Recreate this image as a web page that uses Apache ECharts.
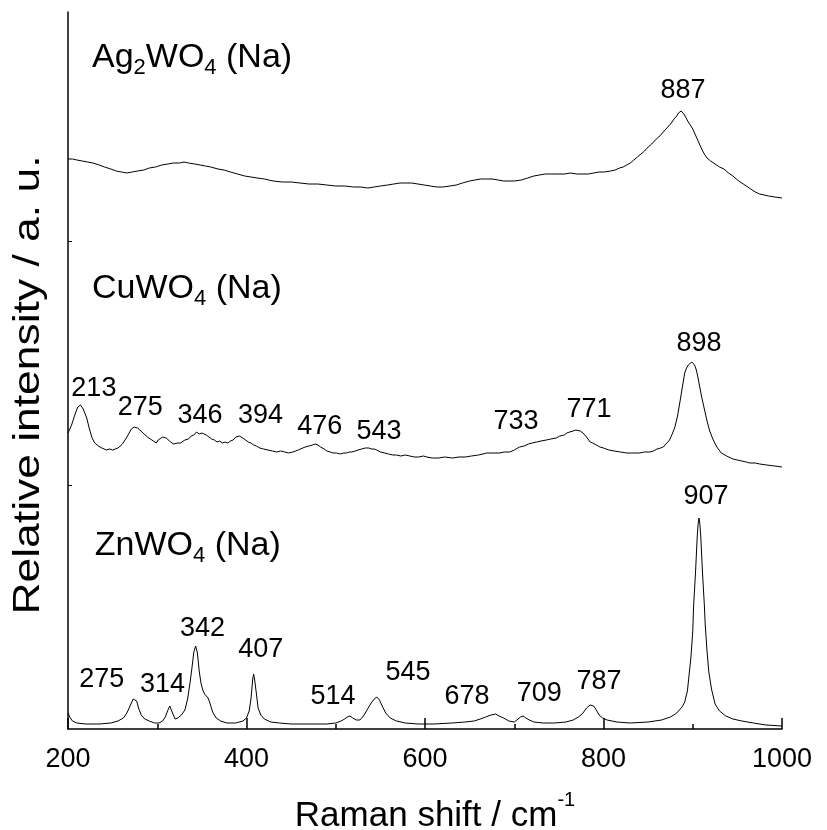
<!DOCTYPE html>
<html>
<head>
<meta charset="utf-8">
<script src="https://cdn.jsdelivr.net/npm/echarts@6/dist/echarts.min.js"></script>
<style>
  html, body { margin: 0; padding: 0; background: #fff; }
  #chart { width: 827px; height: 830px; }
</style>
</head>
<body>
<div id="chart"></div>
<script>
var FONT = 'Liberation Sans, Arial, sans-serif';

// x axis: Raman shift (cm-1); y: relative intensity, spectra stacked with offsets
var xTicks = [200, 400, 600, 800, 1000];
var yTicks = [244, 488];

var znSpectrum = [
  [200,16],[202,12],[205,8],[210,6],[220,5],[235,5],[248,6],[256,8],[262,11],[266,16],[270,24],[273,30],[275,31],
  [277,28],[279,21],[282,14],[286,10],[291,8],[297,6],[302,6],[306,8],[309,12],[312,19],[314,23],[316,21],[318,14],
  [320,10],[323,11],[327,14],[331,19],[334,30],[337,48],[339,62],[341,77],[343,83],[345,76],[347,58],[349,46],
  [351,39],[353,35],[355,33],[357,31],[359,26],[362,17],[366,11],[371,8],[378,6],[388,6],[396,8],[400,11],[403,18],
  [405,30],[407,50],[408,55],[409,50],[411,36],[413,21],[416,14],[420,10],[427,7],[437,6],[450,5],[470,5],[490,5],
  [500,6],[506,8],[510,10],[513,12],[516,13],[519,11],[523,9],[527,9],[531,13],[535,19],[539,25],[543,30],[546,32],
  [549,29],[552,23],[556,16],[561,11],[568,8],[578,6],[592,5],[610,5],[630,6],[645,7],[655,8],[662,10],[668,12],
  [674,14],[679,15],[683,13],[688,11],[694,8],[700,7],[703,9],[707,12],[710,13],[713,11],[717,9],[722,7],[732,6],
  [745,6],[758,7],[766,9],[772,12],[777,16],[781,21],[785,24],[787,25],[789,23],[792,19],[795,14],[799,11],[804,9],
  [815,7],[830,6],[850,7],[865,9],[875,12],[882,16],[888,22],[891,27],[894,38],[896,55],[898,72],[900,98],[901,124],
  [903,155],[905,192],[906,205],[907,211],[908,205],[909,192],[911,155],[913,124],[914,104],[916,78],[918,57],
  [921,40],[925,25],[930,18],[937,13],[945,10],[955,8],[968,6],[982,4],[1000,3]
];

var cuSpectrum = [
  [200,296],[204,304],[208,315],[211,322],[214,324],[217,320],[221,311],[224,300],[227,291],[230,286],[234,283],
  [238,281],[243,279],[247,280],[250,279],[256,281],[261,285],[266,292],[271,300],[274,302],[276,304],[278,301],
  [280,300],[284,296],[289,292],[294,289],[299,286],[301,289],[303,291],[306,292],[310,291],[312,289],[315,287],
  [318,285],[320,284],[323,286],[326,286],[331,289],[335,290],[338,293],[341,294],[344,297],[347,295],[350,296],
  [355,294],[358,292],[361,290],[364,289],[367,287],[370,288],[373,286],[376,287],[379,286],[382,288],[385,289],
  [388,292],[390,291],[392,293],[394,292],[396,291],[398,290],[402,287],[405,286],[408,284],[411,283],[415,281],
  [419,280],[424,279],[429,278],[434,277],[438,278],[443,277],[447,276],[452,277],[455,278],[458,279],[463,281],
  [466,282],[470,283],[474,284],[477,285],[480,284],[483,282],[487,280],[490,278],[494,277],[497,276],[501,276],
  [505,275],[509,276],[512,276],[515,277],[518,277],[522,278],[525,279],[529,280],[533,281],[537,281],[540,280],
  [543,280],[546,279],[550,277],[555,276],[559,275],[564,274],[568,274],[573,273],[578,274],[583,273],[588,272],
  [593,272],[598,273],[602,272],[608,271],[615,271],[622,272],[631,271],[638,272],[645,272],[652,273],[660,274],
  [665,275],[669,276],[676,276],[683,276],[689,277],[695,277],[700,279],[706,282],[711,283],[716,285],[720,286],
  [725,287],[730,288],[736,289],[741,290],[747,291],[751,293],[756,294],[759,296],[762,297],[766,298],[769,299],
  [771,299],[774,298],[777,296],[781,292],[785,287],[788,286],[792,284],[796,282],[800,281],[806,279],[812,278],
  [819,277],[826,276],[833,276],[840,276],[846,277],[852,277],[856,278],[860,280],[864,281],[867,282],[871,286],
  [874,289],[877,295],[880,302],[883,313],[886,329],[888,340],[891,356],[893,361],[895,364],[897,366],[899,367],
  [901,365],[902,364],[904,359],[906,351],[907,346],[910,332],[913,320],[916,308],[919,298],[923,289],[927,282],
  [932,276],[938,273],[945,270],[950,269],[955,268],[960,267],[964,266],[970,266],[975,265],[983,264],[992,263],
  [1000,262]
];

var agSpectrum = [
  [200,570],[205,570],[210,569],[216,568],[222,567],[228,566],[235,564],[241,562],[248,560],[254,558],[260,557],
  [266,556],[272,557],[278,558],[285,559],[291,561],[298,562],[305,564],[312,565],[318,566],[325,566],[330,567],
  [335,566],[342,565],[348,564],[354,563],[360,562],[368,560],[375,559],[382,557],[390,555],[398,553],[405,552],
  [412,551],[420,550],[430,548],[440,547],[450,547],[460,546],[470,545],[480,545],[490,544],[500,543],[510,543],
  [520,542],[528,542],[536,541],[543,542],[550,543],[558,544],[565,545],[572,546],[578,546],[585,546],[592,545],
  [599,544],[606,543],[613,542],[620,542],[628,543],[635,544],[642,546],[650,548],[656,549],[662,550],[668,550],
  [675,550],[682,549],[688,548],[694,548],[700,548],[708,549],[715,551],[722,553],[728,554],[735,555],[742,555],
  [749,555],[756,555],[763,556],[770,555],[777,555],[783,555],[789,556],[795,557],[801,557],[808,558],[813,559],
  [818,561],[822,562],[826,564],[830,566],[834,569],[838,572],[842,575],[846,578],[850,582],[854,585],[858,589],
  [862,592],[866,596],[870,600],[873,603],[876,606],[879,610],[882,613],[884,616],[886,617],[887,618],[888,617],
  [890,615],[892,612],[895,607],[898,603],[900,600],[903,594],[905,590],[908,584],[910,580],[913,575],[916,571],
  [920,568],[925,565],[930,562],[935,560],[940,556],[945,553],[950,549],[955,546],[960,543],[965,540],[970,537],
  [975,535],[980,534],[985,533],[992,532],[1000,531]
];

// sample names, left-anchored
var sampleNames = [
  [230, 183.5, '{n|ZnWO}{s|4}{n| (Na)}'],
  [226.9, 440.5, '{n|CuWO}{s|4}{n| (Na)}'],
  [226.9, 671.5, '{n|Ag}{s|2}{n|WO}{s|4}{n| (Na)}']
];

// peak position labels
var peakLabels = [
  [237.8, 49, '275'], [305.9, 44, '314'], [350.7, 100, '342'], [416, 79, '407'], [497, 32, '514'],
  [581, 56, '545'], [647, 32, '678'], [728, 35, '709'], [795, 47, '787'], [914.8, 232, '907'],
  [229, 340, '213'], [281, 321, '275'], [348, 313, '346'], [415.7, 313, '394'], [482, 302, '476'],
  [548.5, 297, '543'], [702, 307, '733'], [783.7, 319.5, '771'], [907, 385, '898'],
  [889, 638, '887']
];

var chart = echarts.init(document.getElementById('chart'), null, { renderer: 'canvas' });

function lineSeries(name, data) {
  return {
    name: name,
    type: 'line',
    data: data,
    symbol: 'none',
    showSymbol: false,
    silent: true,
    lineStyle: { color: '#000', width: 1 },
    z: 2
  };
}

var option = {
  animation: false,
  backgroundColor: '#fff',
  textStyle: { fontFamily: FONT, color: '#000' },
  grid: { left: 68, right: 45, top: 12, bottom: 101 },
  xAxis: [
    {
      type: 'value',
      min: 200,
      max: 1000,
      interval: 200,
      axisLine: { lineStyle: { color: '#000', width: 1.5 } },
      axisTick: { inside: true, length: 11, lineStyle: { color: '#000', width: 1.5 } },
      splitLine: { show: false },
      axisLabel: {
        fontSize: 27, color: '#000', fontFamily: FONT, margin: 17,
        formatter: function (v) { return String(v); }
      }
    },
    {
      // minor ticks every 100
      type: 'value',
      min: 200,
      max: 1000,
      interval: 100,
      position: 'bottom',
      axisLine: { show: false },
      axisTick: { inside: true, length: 5, lineStyle: { color: '#000', width: 1.5 } },
      axisLabel: { show: false },
      splitLine: { show: false }
    }
  ],
  yAxis: {
    type: 'value',
    min: 0,
    max: 717,
    axisLine: { show: true, lineStyle: { color: '#000', width: 1.5 } },
    axisTick: { show: true, inside: true, length: 4, customValues: yTicks, lineStyle: { color: '#000', width: 1 } },
    axisLabel: { show: false },
    splitLine: { show: false }
  },
  graphic: [
    {
      type: 'text',
      x: 29,
      y: 385,
      rotation: Math.PI / 2,
      scaleX: 1.2,
      style: {
        text: 'Relative intensity / a. u.',
        fontSize: 37,
        fontFamily: FONT,
        fill: '#000',
        align: 'center',
        verticalAlign: 'middle'
      }
    },
    {
      type: 'text',
      x: 435,
      y: 808,
      style: {
        text: '{n|Raman shift / cm}{p|-1}',
        align: 'center',
        verticalAlign: 'middle',
        rich: {
          n: { fontSize: 35, fontFamily: FONT, fill: '#000', lineHeight: 35, padding: [8, 0, 0, 0], verticalAlign: 'top' },
          p: { fontSize: 20, fontFamily: FONT, fill: '#000', lineHeight: 20, verticalAlign: 'top' }
        }
      }
    }
  ],
  series: [
    lineSeries('ZnWO4 (Na)', znSpectrum),
    lineSeries('CuWO4 (Na)', cuSpectrum),
    lineSeries('Ag2WO4 (Na)', agSpectrum),
    {
      type: 'scatter',
      data: peakLabels,
      symbolSize: 0,
      silent: true,
      z: 5,
      itemStyle: { opacity: 1 },
      label: {
        show: true,
        position: 'inside',
        fontSize: 27,
        fontFamily: FONT,
        color: '#000',
        formatter: function (p) { return p.value[2]; }
      }
    },
    {
      type: 'scatter',
      data: sampleNames,
      symbolSize: 0,
      silent: true,
      z: 5,
      itemStyle: { opacity: 1 },
      label: {
        show: true,
        position: 'inside',
        align: 'left',
        formatter: function (p) { return p.value[2]; },
        rich: {
          n: { fontSize: 34, fontFamily: FONT, color: '#000', lineHeight: 34, verticalAlign: 'top' },
          s: { fontSize: 22, fontFamily: FONT, color: '#000', lineHeight: 22, padding: [16, 0, 0, 0], verticalAlign: 'top' }
        }
      }
    }
  ]
};

chart.setOption(option);
</script>
</body>
</html>
